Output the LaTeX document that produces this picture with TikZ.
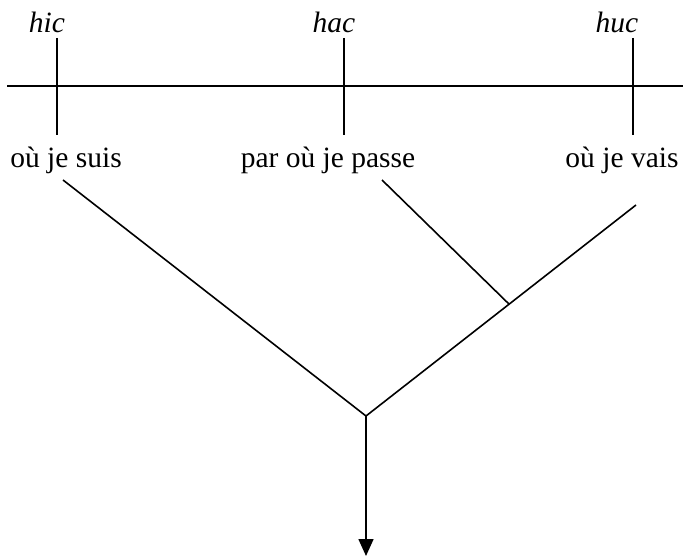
\documentclass[tikz,border=0pt]{standalone}
\usepackage{fontspec}
\setmainfont{Liberation Serif}
\usetikzlibrary{arrows.meta, calc}
\begin{document}
\begin{tikzpicture}[x=1pt, y=-1pt, every node/.style={inner sep=0pt, anchor=base, font=\fontsize{29.5}{34}\selectfont}]
		\useasboundingbox (0,0) rectangle (683,556);
		% \draw[help lines, step=50] (0,0) grid (683,556);
		\draw[line width=1.6pt] (7,86) -- (683,86);

		\node (hic) at (47, 33) [] {\itshape hic};
		\node (hac) at (334, 33) [] {\itshape hac};
		\node (huc) at (617, 33) [] {\itshape huc};

		\node (suis) at (66, 168) [] {où je suis};
		\node (passe) at (328, 168) [] {par où je passe};
		\node (vais) at (622, 168) [] {où je vais};

		\coordinate (t1) at (57,38);   \coordinate (b1) at (57,135);
		\coordinate (t2) at (344,38);  \coordinate (b2) at (344,135);
		\coordinate (t3) at (633,38);  \coordinate (b3) at (633,135);
		\draw[line width=1.6pt] (t1) -- (b1);
		\draw[line width=1.6pt] (t2) -- (b2);
		\draw[line width=1.6pt] (t3) -- (b3);

		\coordinate (l) at (63,180);
		\coordinate (m) at (382,180);
		\coordinate (r) at (636,205);
		\coordinate (j) at (366,416);
		\coordinate (end) at (366,556);
		\draw[line width=1.6pt] (l) -- (j) -- (r);
		\draw[line width=1.6pt] (m) -- ($(r)!0.47!(j)$);
		\draw[line width=1.6pt, -{Triangle[width=15pt, length=17pt]}] (j) -- (end);
	\end{tikzpicture}
\end{document}
